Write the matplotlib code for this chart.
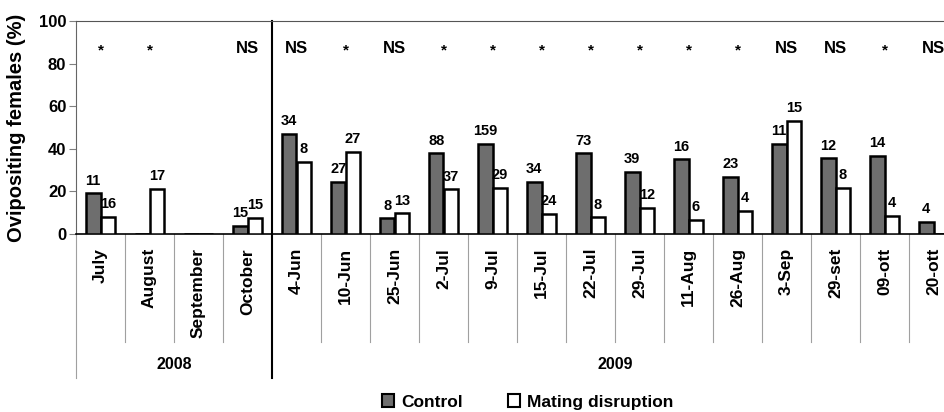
import numpy as np
import matplotlib
matplotlib.use("Agg")
import matplotlib.pyplot as plt
import matplotlib.transforms as mtransforms
from matplotlib.patches import Patch

plt.rcParams['font.family'] = ['Liberation Sans', 'DejaVu Sans']
plt.rcParams['font.weight'] = 'bold'

# categories (2008 months, then 2009 sampling dates)
categories = ['July', 'August', 'September', 'October',
              '4-Jun', '10-Jun', '25-Jun', '2-Jul', '9-Jul', '15-Jul', '22-Jul',
              '29-Jul', '11-Aug', '26-Aug', '3-Sep', '29-set', '09-ott', '20-ott']
years = ['2008', '2009']
year_sizes = [4, 14]

# % ovipositing females
control = [19.2, 0, 0, 3.8, 47.0, 24.6, 7.4, 37.9, 42.3, 24.6, 37.9,
           29.3, 35.1, 26.9, 42.3, 35.5, 36.6, 5.8]
mating = [8.1, 21.3, 0, 7.5, 33.8, 38.6, 9.7, 21.0, 21.7, 9.5, 7.8,
          12.2, 6.6, 10.9, 53.2, 21.7, 8.6, 0]

# number of females (labels above bars)
n_control = ['11', '', '', '15', '34', '27', '8', '88', '159', '34', '73',
             '39', '16', '23', '11', '12', '14', '4']
n_mating = ['16', '17', '', '15', '8', '27', '13', '37', '29', '24', '8',
            '12', '6', '4', '15', '8', '4', '']

signif = ['*', '*', '', 'NS', 'NS', '*', 'NS', '*', '*', '*', '*',
          '*', '*', '*', 'NS', 'NS', '*', 'NS']

fig = plt.figure(figsize=(9.44, 4.12), dpi=100)
ax = fig.add_axes([76 / 944, 178 / 412, 868 / 944, 213 / 412])

x = np.arange(len(categories)) + 0.5
w = 0.3
ax.bar(x - w / 2, control, w, color='#6e6e6e', edgecolor='black', linewidth=1.8, zorder=3)
ax.bar(x + w / 2, mating, w, color='white', edgecolor='black', linewidth=1.8, zorder=3)

for xi, v, s in zip(x - w / 2, control, n_control):
    if s:
        ax.annotate(s, (xi, v), xytext=(0, 4), textcoords='offset points',
                    ha='center', va='bottom', fontsize=10.5, fontweight='bold')
for xi, v, s in zip(x + w / 2, mating, n_mating):
    if s:
        ax.annotate(s, (xi, v), xytext=(0, 4), textcoords='offset points',
                    ha='center', va='bottom', fontsize=10.5, fontweight='bold')

for xi, s in zip(x, signif):
    if s == 'NS':
        ax.text(xi, 87, s, ha='center', va='center', fontsize=12, fontweight='bold')
    elif s == '*':
        ax.text(xi, 86, s, ha='center', va='center', fontsize=11, fontweight='bold')

ax.set_xlim(0, 868 / 49)
ax.set_ylim(0, 100)
ax.set_yticks(range(0, 101, 20))
ax.tick_params(axis='y', labelsize=12, length=5, color='#808080', pad=2)
ax.set_ylabel('Ovipositing females (%)', fontsize=14.5, fontweight='bold', labelpad=9)

ax.set_xticks(x)
ax.set_xticklabels(categories, rotation=90, fontsize=12.5, fontweight='bold')
ax.tick_params(axis='x', length=0, pad=10)

ax.spines['right'].set_visible(False)
ax.spines['top'].set_color('#555555')
ax.spines['left'].set_color('#666666')
ax.spines['bottom'].set_color('black')
ax.spines['bottom'].set_linewidth(1.2)

# multi-level category axis drawn below the plot
trans = mtransforms.blended_transform_factory(ax.transData, ax.transAxes)
for b in range(1, len(categories)):
    if b == year_sizes[0]:
        continue
    ax.plot([b, b], [0, -0.507], transform=trans, color='#a0a0a0', lw=0.8, clip_on=False)
ax.plot([0, 0], [0, -0.676], transform=trans, color='#a0a0a0', lw=0.8, clip_on=False)
ax.plot([year_sizes[0]] * 2, [1, -0.676], transform=trans, color='black', lw=1.5, clip_on=False)

start = 0
for yr, size in zip(years, year_sizes):
    ax.text(start + size / 2, -0.613, yr, transform=trans, ha='center', va='center',
            fontsize=11.5, fontweight='bold')
    start += size

handles = [Patch(facecolor='#6e6e6e', edgecolor='black', linewidth=1.5),
           Patch(facecolor='white', edgecolor='black', linewidth=1.5)]
fig.legend(handles, ['Control', 'Mating disruption'], loc='center',
           bbox_to_anchor=(528 / 944, 10 / 412), ncol=2, frameon=False,
           handlelength=0.7, handleheight=0.7, handletextpad=0.4,
           columnspacing=2.6, prop={'size': 12.5, 'weight': 'bold'})

fig.savefig('out.png', dpi=100)
